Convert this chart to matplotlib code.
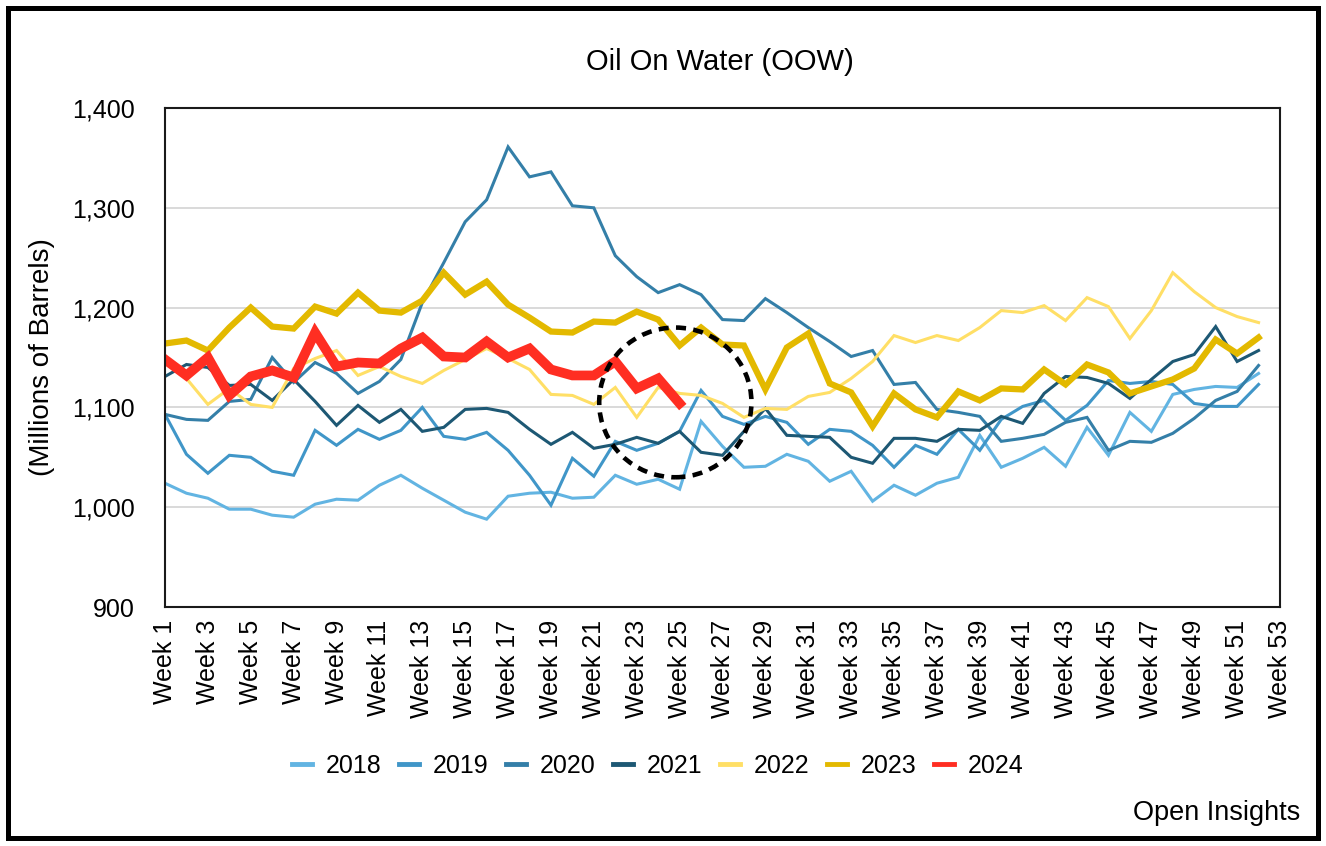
import matplotlib.pyplot as plt
from matplotlib.patches import Ellipse, Rectangle
from matplotlib.ticker import FuncFormatter

plt.rcParams['font.family'] = ['Liberation Sans', 'DejaVu Sans']

# weekly oil on water, millions of barrels (weeks 1..52, 2024 to week 25)
weeks = [f'Week {i}' for i in range(1, 54)]

oow_2018 = [1024, 1014, 1009, 998, 998, 992, 990, 1003, 1008, 1007, 1022, 1032, 1019,
            1007, 995, 988, 1011, 1014, 1015, 1009, 1010, 1032, 1023, 1028, 1018, 1086,
            1061, 1040, 1041, 1053, 1046, 1026, 1036, 1006, 1022, 1012, 1024, 1030, 1072,
            1040, 1049, 1060, 1041, 1080, 1052, 1095, 1076, 1113, 1118, 1121, 1120, 1134]
oow_2019 = [1093, 1053, 1034, 1052, 1050, 1036, 1032, 1077, 1062, 1078, 1068, 1077, 1100,
            1071, 1068, 1075, 1057, 1032, 1002, 1049, 1031, 1066, 1057, 1064, 1076, 1117,
            1091, 1083, 1091, 1085, 1063, 1078, 1076, 1062, 1040, 1062, 1053, 1078, 1057,
            1088, 1101, 1107, 1087, 1102, 1127, 1124, 1126, 1123, 1104, 1101, 1101, 1123]
oow_2020 = [1093, 1088, 1087, 1106, 1108, 1150, 1125, 1145, 1134, 1114, 1126, 1148, 1205,
            1245, 1286, 1308, 1361, 1331, 1336, 1302, 1300, 1252, 1231, 1215, 1223, 1213,
            1188, 1187, 1209, 1195, 1180, 1166, 1151, 1157, 1123, 1125, 1098, 1095, 1091,
            1066, 1069, 1073, 1085, 1090, 1057, 1066, 1065, 1074, 1089, 1107, 1116, 1142]
oow_2021 = [1131, 1143, 1140, 1122, 1123, 1107, 1128, 1106, 1082, 1102, 1085, 1098, 1076,
            1080, 1098, 1099, 1095, 1078, 1063, 1075, 1059, 1063, 1070, 1064, 1076, 1055,
            1052, 1076, 1099, 1072, 1071, 1070, 1050, 1044, 1069, 1069, 1066, 1078, 1077,
            1091, 1084, 1114, 1131, 1130, 1124, 1109, 1128, 1146, 1153, 1181, 1146, 1157]
oow_2022 = [1150, 1129, 1103, 1119, 1103, 1100, 1139, 1149, 1157, 1132, 1141, 1131, 1124,
            1137, 1148, 1159, 1149, 1138, 1113, 1112, 1103, 1120, 1090, 1120, 1114, 1112,
            1104, 1090, 1099, 1098, 1111, 1115, 1129, 1146, 1172, 1165, 1172, 1167, 1180,
            1197, 1195, 1202, 1187, 1210, 1201, 1169, 1197, 1235, 1216, 1200, 1191, 1185]
oow_2023 = [1164, 1167, 1157, 1180, 1200, 1181, 1179, 1201, 1194, 1215, 1197, 1195, 1207,
            1235, 1213, 1226, 1203, 1190, 1176, 1175, 1186, 1185, 1196, 1188, 1162, 1180,
            1163, 1162, 1118, 1160, 1174, 1124, 1115, 1081, 1114, 1098, 1090, 1116, 1107,
            1119, 1118, 1138, 1123, 1143, 1135, 1114, 1121, 1128, 1139, 1168, 1154, 1170]
oow_2024 = [1148, 1132, 1150, 1112, 1131, 1137, 1130, 1175, 1141, 1145, 1144, 1159, 1170,
            1151, 1150, 1166, 1150, 1159, 1138, 1132, 1132, 1146, 1119, 1129, 1104]

series = [
    ('2018', oow_2018, '#62B4E2', 2.2),
    ('2019', oow_2019, '#4096C8', 2.2),
    ('2020', oow_2020, '#347FA8', 2.2),
    ('2021', oow_2021, '#1D5874', 2.2),
    ('2022', oow_2022, '#FFDF66', 2.2),
    ('2023', oow_2023, '#E3B900', 4.5),
    ('2024', oow_2024, '#FF2E22', 7.0),
]

fig = plt.figure(figsize=(13.26, 8.46), dpi=100)
ax = fig.add_axes([165 / 1326, 1 - 607 / 846, 1115 / 1326, 499 / 846])

for label, vals, color, lw in series:
    ax.plot(range(len(vals)), vals, color=color, linewidth=lw, label=label,
            solid_joinstyle='miter')

# dashed circle highlighting the recent weeks
ax.add_patch(Ellipse((23.8, 1105), width=7.1, height=150, fill=False,
                     edgecolor='black', linewidth=3.3, linestyle=(0, (2.2, 1.6)),
                     zorder=5))

ax.set_xlim(0, 52)
ax.set_ylim(900, 1400)
ax.set_xticks(range(0, 53, 2))
ax.set_xticklabels(weeks[::2], rotation=90, fontsize=18)
ax.set_yticks(range(900, 1401, 100))
ax.yaxis.set_major_formatter(FuncFormatter(lambda v, p: f'{int(v):,}'))
ax.tick_params(axis='y', length=0, pad=22, labelsize=18)
ax.tick_params(axis='x', length=0, pad=9)
ax.grid(axis='y', color='#D3D3D3', linewidth=1.2)
ax.set_axisbelow(True)
for s in ax.spines.values():
    s.set_linewidth(1.5)
    s.set_color('#1a1a1a')

ax.set_ylabel('(Millions of Barrels)', fontsize=20, labelpad=12)
fig.text(720 / 1326, 1 - 62 / 846, 'Oil On Water (OOW)', ha='center', va='center',
         fontsize=21)

leg = fig.legend(loc='center', bbox_to_anchor=(658 / 1326, 1 - 766 / 846), ncol=7,
                 frameon=False, fontsize=18, handlelength=0.8, handletextpad=0.55,
                 columnspacing=0.7)
for h in leg.get_lines():
    h.set_linewidth(3.5)

fig.text(1300 / 1326, 1 - 813 / 846, 'Open Insights', ha='right', va='center',
         fontsize=19.5)

# outer frame
fig.patches.append(Rectangle((7.5 / 1326, 8.5 / 846), 1310 / 1326, 829 / 846,
                             transform=fig.transFigure, fill=False,
                             edgecolor='black', linewidth=3.6))

plt.savefig('out.png', dpi=100)
